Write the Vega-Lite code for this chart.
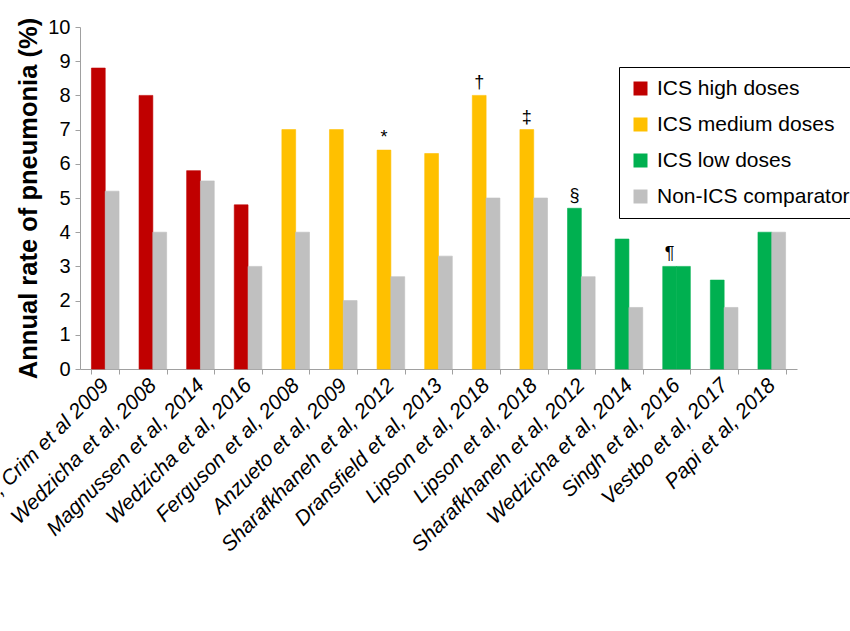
{
  "$schema": "https://vega.github.io/schema/vega-lite/v6.json",
  "autosize": {"type": "none"},
  "padding": {"left": 80, "top": 27, "right": 53, "bottom": 262},
  "width": 717,
  "height": 342,
  "background": "white",
  "config": {
    "view": {"stroke": null},
    "font": "Liberation Sans",
    "axis": {"domainColor": "#A0A0A0", "tickColor": "#A0A0A0", "grid": false, "labelColor": "black", "titleColor": "black"}
  },
  "data": {
    "values": [
      {"study": "Calverley, Crim et al 2009", "arm": "a", "group": "ICS high doses", "value": 8.8, "note": ""},
      {"study": "Calverley, Crim et al 2009", "arm": "b", "group": "Non-ICS comparator", "value": 5.2, "note": ""},
      {"study": "Wedzicha et al, 2008", "arm": "a", "group": "ICS high doses", "value": 8.0, "note": ""},
      {"study": "Wedzicha et al, 2008", "arm": "b", "group": "Non-ICS comparator", "value": 4.0, "note": ""},
      {"study": "Magnussen et al, 2014", "arm": "a", "group": "ICS high doses", "value": 5.8, "note": ""},
      {"study": "Magnussen et al, 2014", "arm": "b", "group": "Non-ICS comparator", "value": 5.5, "note": ""},
      {"study": "Wedzicha et al, 2016", "arm": "a", "group": "ICS high doses", "value": 4.8, "note": ""},
      {"study": "Wedzicha et al, 2016", "arm": "b", "group": "Non-ICS comparator", "value": 3.0, "note": ""},
      {"study": "Ferguson et al, 2008", "arm": "a", "group": "ICS medium doses", "value": 7.0, "note": ""},
      {"study": "Ferguson et al, 2008", "arm": "b", "group": "Non-ICS comparator", "value": 4.0, "note": ""},
      {"study": "Anzueto et al, 2009", "arm": "a", "group": "ICS medium doses", "value": 7.0, "note": ""},
      {"study": "Anzueto et al, 2009", "arm": "b", "group": "Non-ICS comparator", "value": 2.0, "note": ""},
      {"study": "Sharafkhaneh et al, 2012#1", "arm": "a", "group": "ICS medium doses", "value": 6.4, "note": "*"},
      {"study": "Sharafkhaneh et al, 2012#1", "arm": "b", "group": "Non-ICS comparator", "value": 2.7, "note": ""},
      {"study": "Dransfield et al, 2013", "arm": "a", "group": "ICS medium doses", "value": 6.3, "note": ""},
      {"study": "Dransfield et al, 2013", "arm": "b", "group": "Non-ICS comparator", "value": 3.3, "note": ""},
      {"study": "Lipson et al, 2018#1", "arm": "a", "group": "ICS medium doses", "value": 8.0, "note": "†"},
      {"study": "Lipson et al, 2018#1", "arm": "b", "group": "Non-ICS comparator", "value": 5.0, "note": ""},
      {"study": "Lipson et al, 2018#2", "arm": "a", "group": "ICS medium doses", "value": 7.0, "note": "‡"},
      {"study": "Lipson et al, 2018#2", "arm": "b", "group": "Non-ICS comparator", "value": 5.0, "note": ""},
      {"study": "Sharafkhaneh et al, 2012#2", "arm": "a", "group": "ICS low doses", "value": 4.7, "note": "§"},
      {"study": "Sharafkhaneh et al, 2012#2", "arm": "b", "group": "Non-ICS comparator", "value": 2.7, "note": ""},
      {"study": "Wedzicha et al, 2014", "arm": "a", "group": "ICS low doses", "value": 3.8, "note": ""},
      {"study": "Wedzicha et al, 2014", "arm": "b", "group": "Non-ICS comparator", "value": 1.8, "note": ""},
      {"study": "Singh et al, 2016", "arm": "a", "group": "ICS low doses", "value": 3.0, "note": "¶"},
      {"study": "Singh et al, 2016", "arm": "b", "group": "ICS low doses", "value": 3.0, "note": ""},
      {"study": "Vestbo et al, 2017", "arm": "a", "group": "ICS low doses", "value": 2.6, "note": ""},
      {"study": "Vestbo et al, 2017", "arm": "b", "group": "Non-ICS comparator", "value": 1.8, "note": ""},
      {"study": "Papi et al, 2018", "arm": "a", "group": "ICS low doses", "value": 4.0, "note": ""},
      {"study": "Papi et al, 2018", "arm": "b", "group": "Non-ICS comparator", "value": 4.0, "note": ""}
    ]
  },
  "encoding": {
    "x": {
      "field": "study",
      "type": "nominal",
      "sort": null,
      "scale": {"paddingInner": 0.42, "paddingOuter": 0.24},
      "axis": {
        "title": null,
        "labelExpr": "split(datum.label, '#')[0]",
        "labelAngle": -45,
        "labelFontSize": 21,
        "labelFontStyle": "italic",
        "labelAlign": "right",
        "labelBaseline": "middle",
        "labelPadding": 8,
        "tickBand": "extent",
        "tickSize": 5,
        "labelLimit": 400
      }
    },
    "xOffset": {"field": "arm", "type": "nominal", "scale": {"paddingInner": 0}},
    "y": {
      "field": "value",
      "type": "quantitative",
      "scale": {"domain": [0, 10]},
      "axis": {
        "title": "Annual rate of pneumonia (%)",
        "titleFontSize": 25.5,
        "titleFontWeight": "bold",
        "titlePadding": 6,
        "tickCount": 10,
        "labelFontSize": 20,
        "tickSize": 5,
        "labelPadding": 5
      }
    }
  },
  "layer": [
    {
      "mark": {"type": "bar", "strokeWidth": 0.6},
      "encoding": {
        "color": {
          "field": "group",
          "type": "nominal",
          "scale": {
            "domain": ["ICS high doses", "ICS medium doses", "ICS low doses", "Non-ICS comparator"],
            "range": ["#C00000", "#FFC000", "#00B050", "#C0C0C0"]
          },
          "legend": {
            "title": null,
            "orient": "none",
            "legendX": 539,
            "legendY": 40,
            "strokeColor": "black",
            "padding": 11,
            "symbolType": "square",
            "symbolSize": 196,
            "symbolStrokeWidth": 0,
            "labelFontSize": 21,
            "labelColor": "black",
            "labelOffset": 6,
            "rowPadding": 14,
            "labelLimit": 400
          }
        },
        "stroke": {
          "field": "group",
          "type": "nominal",
          "scale": {
            "domain": ["ICS high doses", "ICS medium doses", "ICS low doses", "Non-ICS comparator"],
            "range": ["#C00000", "#FFC000", "#00B050", "#C0C0C0"]
          },
          "legend": null
        }
      }
    },
    {
      "mark": {"type": "text", "baseline": "bottom", "dy": -3, "fontSize": 18, "color": "black"},
      "encoding": {"text": {"field": "note"}}
    }
  ]
}
